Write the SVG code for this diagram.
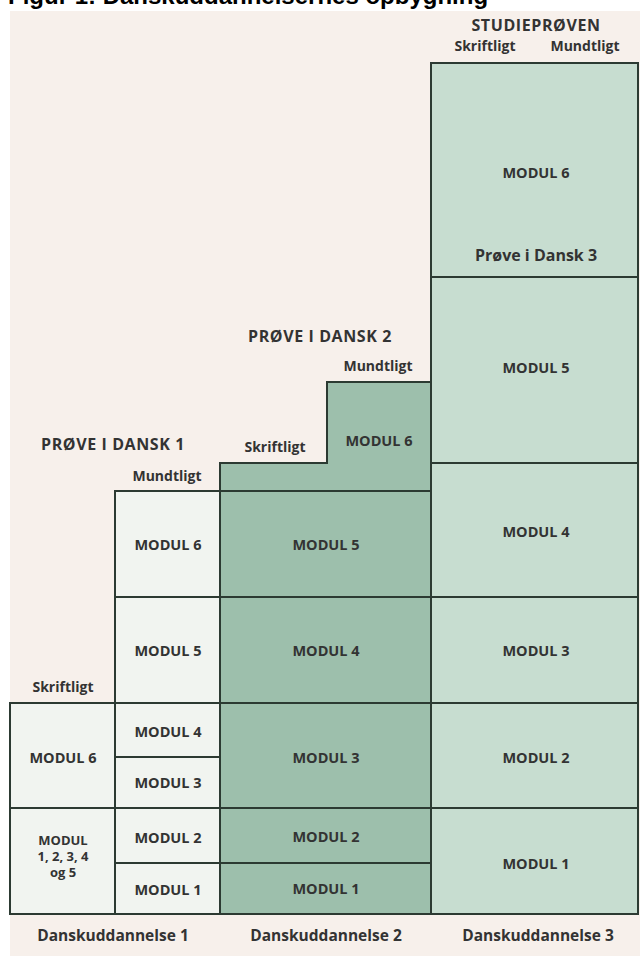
<svg xmlns="http://www.w3.org/2000/svg" width="640" height="956" viewBox="0 0 640 956">
<style>
.cell{stroke:#2c3a32;stroke-width:2}
.c1{fill:#f1f4f0}
.c2{fill:#9dbfac}
.c3{fill:#c7ddd0}
text{font-family:"Open Sans","Noto Sans","Liberation Sans",sans-serif;font-weight:700;fill:#333;text-anchor:middle}
.m{font-size:14.5px}
.ms{font-size:13px}
.h{font-size:16px}
.s{font-size:14px}
.f{font-size:15.5px}
.title{font-family:"Liberation Sans",Arial,sans-serif;font-size:24px;fill:#000;text-anchor:start}
</style>
<rect x="0" y="0" width="640" height="956" fill="#ffffff"/>
<rect x="10" y="11" width="630" height="945" fill="#f7f0eb"/>
<text class="title" x="8" y="4">Figur 1: Danskuddannelsernes opbygning</text>

<g id="studieproeven-header">
<text class="h" x="536" y="31" letter-spacing="0.6">STUDIEPRØVEN</text>
<text class="s" x="485" y="51">Skriftligt</text>
<text class="s" x="585" y="51">Mundtligt</text>
</g>

<g id="du3-modul6">
<rect class="cell c3" x="431" y="63" width="207" height="214"/>
<text class="m" x="536" y="178">MODUL 6</text>
<text class="h" x="536" y="261">Prøve i Dansk 3</text>
</g>
<g id="du3-modul5">
<rect class="cell c3" x="431" y="277" width="207" height="186"/>
<text class="m" x="536" y="373">MODUL 5</text>
</g>
<g id="du3-modul4">
<rect class="cell c3" x="431" y="463" width="207" height="134"/>
<text class="m" x="536" y="537">MODUL 4</text>
</g>
<g id="du3-modul3">
<rect class="cell c3" x="431" y="597" width="207" height="106"/>
<text class="m" x="536" y="656">MODUL 3</text>
</g>
<g id="du3-modul2">
<rect class="cell c3" x="431" y="703" width="207" height="105"/>
<text class="m" x="536" y="763">MODUL 2</text>
</g>
<g id="du3-modul1">
<rect class="cell c3" x="431" y="808" width="207" height="106"/>
<text class="m" x="536" y="869">MODUL 1</text>
</g>

<g id="proeve-dansk2-header">
<text class="h" x="320" y="342" letter-spacing="0.6">PRØVE I DANSK 2</text>
<text class="s" x="378" y="371">Mundtligt</text>
<text class="s" x="275" y="452">Skriftligt</text>
</g>

<g id="du2-modul6">
<path class="cell c2" d="M220,491 V463 H327 V382 H431 V491 Z"/>
<text class="m" x="379" y="446">MODUL 6</text>
</g>
<g id="du2-modul5">
<rect class="cell c2" x="220" y="491" width="211" height="106"/>
<text class="m" x="326" y="550">MODUL 5</text>
</g>
<g id="du2-modul4">
<rect class="cell c2" x="220" y="597" width="211" height="106"/>
<text class="m" x="326" y="656">MODUL 4</text>
</g>
<g id="du2-modul3">
<rect class="cell c2" x="220" y="703" width="211" height="105"/>
<text class="m" x="326" y="763">MODUL 3</text>
</g>
<g id="du2-modul2">
<rect class="cell c2" x="220" y="808" width="211" height="55"/>
<text class="m" x="326" y="842">MODUL 2</text>
</g>
<g id="du2-modul1">
<rect class="cell c2" x="220" y="863" width="211" height="51"/>
<text class="m" x="326" y="894">MODUL 1</text>
</g>

<g id="proeve-dansk1-header">
<text class="h" x="113" y="450" letter-spacing="0.6">PRØVE I DANSK 1</text>
<text class="s" x="167" y="481">Mundtligt</text>
<text class="s" x="63" y="692">Skriftligt</text>
</g>

<g id="du1-modul6-m">
<rect class="cell c1" x="115" y="491" width="105" height="106"/>
<text class="m" x="168" y="550">MODUL 6</text>
</g>
<g id="du1-modul5-m">
<rect class="cell c1" x="115" y="597" width="105" height="106"/>
<text class="m" x="168" y="656">MODUL 5</text>
</g>
<g id="du1-modul4">
<rect class="cell c1" x="115" y="703" width="105" height="54"/>
<text class="m" x="168" y="737">MODUL 4</text>
</g>
<g id="du1-modul3">
<rect class="cell c1" x="115" y="757" width="105" height="51"/>
<text class="m" x="168" y="788">MODUL 3</text>
</g>
<g id="du1-modul2">
<rect class="cell c1" x="115" y="808" width="105" height="55"/>
<text class="m" x="168" y="843">MODUL 2</text>
</g>
<g id="du1-modul1">
<rect class="cell c1" x="115" y="863" width="105" height="51"/>
<text class="m" x="168" y="895">MODUL 1</text>
</g>
<g id="du1-modul6-s">
<rect class="cell c1" x="10" y="703" width="105" height="105"/>
<text class="m" x="63" y="763">MODUL 6</text>
</g>
<g id="du1-modul1-5-s">
<rect class="cell c1" x="10" y="808" width="105" height="106"/>
<text class="ms" x="63" y="845">MODUL</text>
<text class="ms" x="63" y="861">1, 2, 3, 4</text>
<text class="ms" x="63" y="877">og 5</text>
</g>

<g id="footer-labels">
<text class="f" x="113" y="941">Danskuddannelse 1</text>
<text class="f" x="326" y="941">Danskuddannelse 2</text>
<text class="f" x="538" y="941">Danskuddannelse 3</text>
</g>

<g id="connectors"/>
</svg>
